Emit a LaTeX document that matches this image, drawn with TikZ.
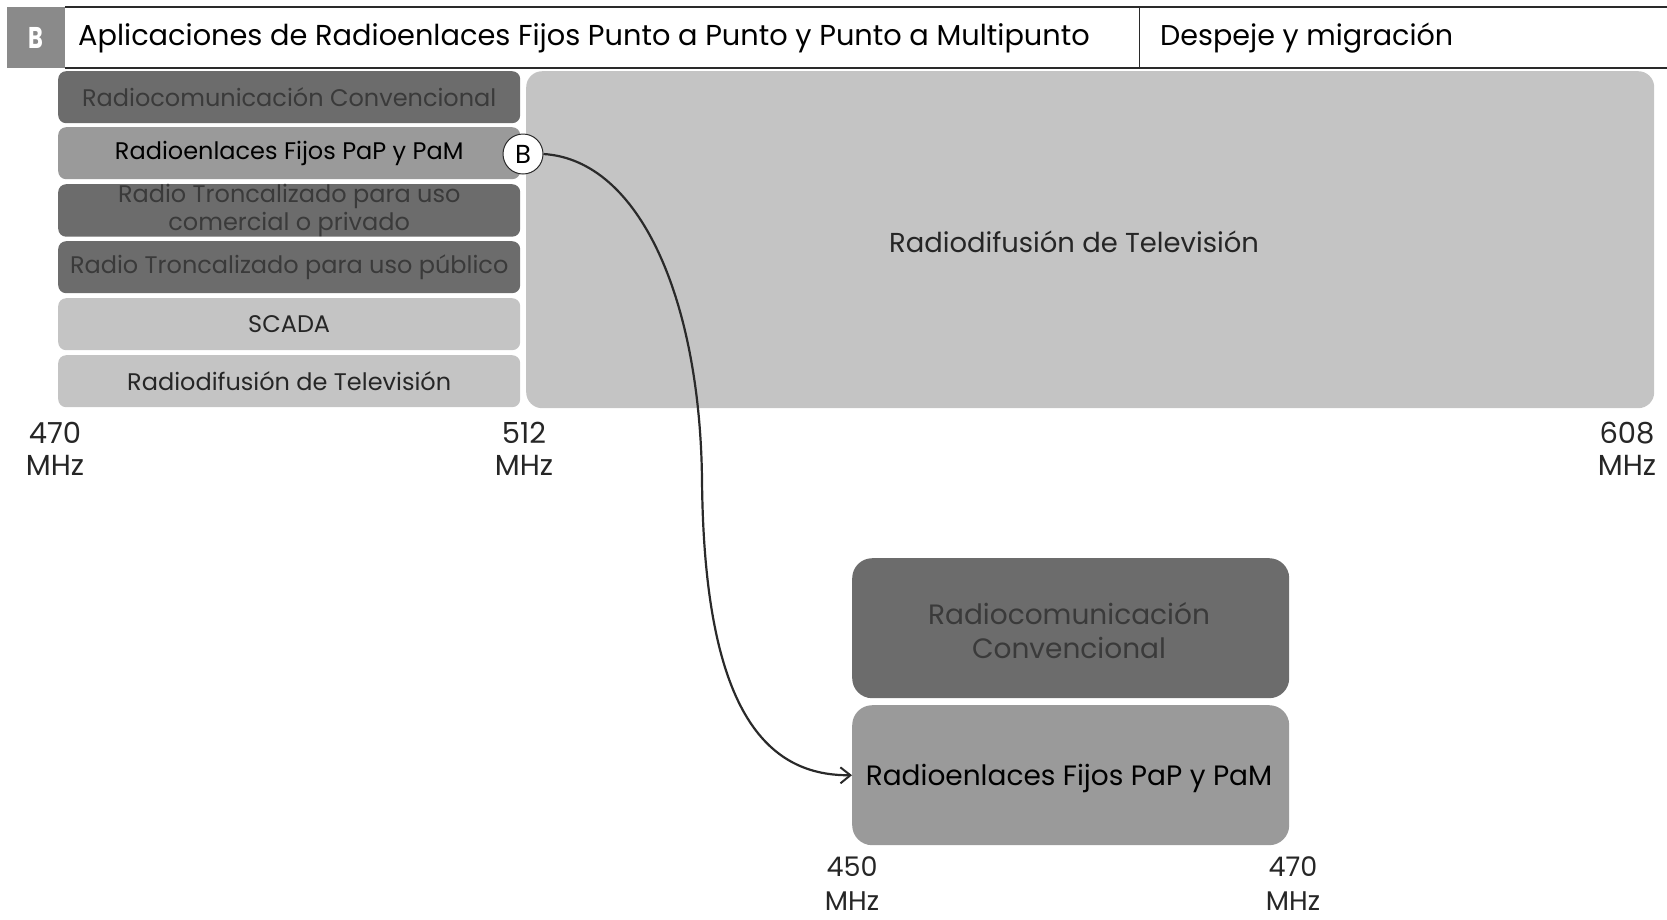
\documentclass[tikz,border=0pt]{standalone}
\usepackage{fontspec}
\setmainfont{Poppins}
\usetikzlibrary{arrows.meta}
\definecolor{dk}{HTML}{6C6C6C}
\definecolor{md}{HTML}{9A9A9A}
\definecolor{lt}{HTML}{C4C4C4}
\definecolor{hd}{HTML}{8A8A8A}
\definecolor{dktext}{HTML}{3A3A3A}
\definecolor{ln}{HTML}{2A2A2A}
\begin{document}
\begin{tikzpicture}[x=1pt,y=-1pt,
  band/.style={rounded corners=8pt, inner sep=0pt, anchor=north west, minimum width=462pt, minimum height=52pt, align=center, font=\fontsize{24}{28}\selectfont},
  dkband/.style={band, fill=dk, text=dktext},
  mdband/.style={band, fill=md, text=black},
  ltband/.style={band, fill=lt, text=black!85},
  freq/.style={align=center, font=\fontsize{29}{32}\selectfont, text=black!85, inner sep=0pt},
  freqb/.style={align=center, font=\fontsize{27}{34}\selectfont, text=black!85, inner sep=0pt},
  lbl/.style={inner sep=0pt}]
\useasboundingbox (0,0) rectangle (1667,919);
% header
\fill[hd] (7,7) rectangle (65,68);
\node[text=white, font=\fontsize{30}{30}\selectfont\bfseries, inner sep=0pt] (hb) at (36,38) {\scalebox{0.75}[1]{B}};
\draw[line width=1.5pt, ln] (65,7) -- (1667,7);
\draw[line width=1.5pt, ln] (65,68) -- (1667,68);
\draw[line width=1pt, ln] (1139,7) -- (1139,68);
\node[anchor=west, inner sep=0pt, font=\fontsize{28.8}{30}\selectfont] (title) at (78,38) {Aplicaciones de Radioenlaces Fijos Punto a Punto y Punto a Multipunto};
\node[anchor=west, inner sep=0pt, font=\fontsize{28.6}{30}\selectfont] (title2) at (1160,38) {Despeje y migración};
% left bands
\node[dkband] (b1) at (58,71) {Radiocomunicación Convencional};
\node[mdband] (b2) at (58,127) {Radioenlaces Fijos PaP y PaM};
\node[dkband] (b3) at (58,184) {Radio Troncalizado para uso\\comercial o privado};
\node[dkband] (b4) at (58,241) {Radio Troncalizado para uso público};
\node[ltband] (b5) at (58,298) {SCADA};
\node[ltband] (b6) at (58,355) {Radiodifusión de Televisión};
% big band
\node[band, fill=lt, rounded corners=16pt, minimum width=1128pt, minimum height=337pt] (tv) at (526,71) {};
\node[lbl, text=black!85, font=\fontsize{27.4}{30}\selectfont] (tvl) at (1074,242) {Radiodifusión de Televisión};
% frequency labels
\node[freq] (f470) at (55,449) {470\\MHz};
\node[freq] (f512) at (524,449) {512\\MHz};
\node[freq] (f608) at (1627,449) {608\\MHz};
% bottom bands
\node[band, fill=dk, rounded corners=20pt, minimum width=437pt, minimum height=140pt] (n1) at (852,558) {};
\node[lbl, align=center, text=dktext, font=\fontsize{28}{34}\selectfont] (n1l) at (1069,631) {Radiocomunicación\\Convencional};
\node[band, fill=md, rounded corners=20pt, minimum width=437pt, minimum height=140pt] (n2) at (852,705) {};
\node[lbl, text=black, font=\fontsize{28}{30}\selectfont] (n2l) at (1069,778) {Radioenlaces Fijos PaP y PaM};
\node[freqb] (f450) at (852,884) {450\\MHz};
\node[freqb] (f470b) at (1293,884) {470\\MHz};
% B marker and arrow
\node[circle, fill=white, draw=ln, line width=1pt, minimum size=40pt, inner sep=0pt, font=\fontsize{26}{26}\selectfont] (mk) at (523,154) {B};
\draw[ln, line width=2.2pt, -{Straight Barb[length=10pt,width=16pt,line width=2pt]}] (mk.east) .. controls (640,160) and (700,300) .. (702,480) .. controls (704,700) and (760,776) .. (n2.west);
\end{tikzpicture}
\end{document}
